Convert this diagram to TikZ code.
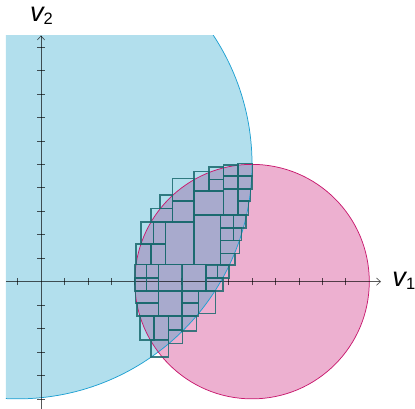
\documentclass[tikz,border=0pt]{standalone}
\usepackage{fontspec}
\setsansfont{Liberation Sans}
\usetikzlibrary{arrows.meta}
\definecolor{bluefill}{RGB}{178,223,237}
\definecolor{pinkfill}{RGB}{237,176,208}
\definecolor{overlapfill}{RGB}{168,170,205}
\definecolor{bluestroke}{RGB}{30,160,210}
\definecolor{pinkstroke}{RGB}{200,25,110}
\definecolor{boxstroke}{RGB}{25,105,110}
\begin{document}
\begin{tikzpicture}[x=1cm,y=1cm,
  axisline/.style={black,opacity=0.65,line width=0.8pt},
  tickline/.style={black,opacity=0.65,line width=0.8pt},
  pavebox/.style={draw=boxstroke,line width=1.8pt,draw opacity=0.85},
  lbl/.style={font=\sffamily\itshape\fontsize{33}{36}\selectfont,inner sep=0pt,anchor=base west}]
\useasboundingbox (-1.748,-5.43) rectangle (15.95,12.01);
% disks
\begin{scope}
  \clip (-1.5,-5.5) rectangle (14.5,10.5);
  \fill[bluefill] (-1,5) circle (10);
\end{scope}
\fill[pinkfill] (9,0) circle (5);
\begin{scope}
  \clip (-1,5) circle (10);
  \fill[overlapfill] (9,0) circle (5);
\end{scope}
\begin{scope}
  \clip (-1.5,-5.5) rectangle (14.5,10.5);
  \draw[bluestroke,line width=0.9pt] (-1,5) circle (10);
\end{scope}
\draw[pinkstroke,line width=0.9pt] (9,0) circle (5);
% axes
\coordinate (xl) at (-1.5,0);
\coordinate (xr) at (14.5,0);
\coordinate (yb) at (0,-5.6);
\coordinate (yt) at (0,10.5);
\draw[axisline,-{Straight Barb[length=5pt,width=9pt]}] (xl) -- (xr);
\draw[axisline,-{Straight Barb[length=5pt,width=9pt]}] (yb) -- (yt);
\foreach \i in {-1,1,2,...,13} \draw[tickline] (\i,-0.15) -- (\i,0.15);
\foreach \j in {-5,-4,...,-1,1,2,...,10} \draw[tickline] (-0.15,\j) -- (0.15,\j);
% boxes
\foreach \a/\b/\c/\d in {
 8.40/4.50/9.02/5.03, 7.79/4.50/8.40/4.98, 7.16/4.36/7.79/4.88,
 6.53/3.86/7.16/4.69, 7.16/3.86/7.79/4.36, 7.79/3.96/8.40/4.50,
 8.40/3.96/8.99/4.50, 8.40/3.43/8.93/3.96, 7.79/2.85/8.40/3.96,
 8.40/2.85/8.86/3.43, 6.53/2.85/7.79/3.86, 5.61/3.43/6.53/4.39,
 5.61/2.54/6.53/3.43, 5.07/3.11/5.61/3.70, 4.69/2.54/5.61/3.11,
 6.53/0.72/7.66/2.85, 7.66/2.29/8.21/2.85, 8.21/2.29/8.75/2.85,
 7.66/1.76/8.21/2.29, 8.21/1.76/8.55/2.29, 7.66/1.21/8.46/1.76,
 7.66/0.70/8.27/1.21, 5.30/0.73/6.53/2.54, 4.79/1.61/5.30/2.54,
 4.26/1.61/4.79/2.54, 4.69/0.73/5.30/1.61, 4.05/0.73/4.69/1.61,
 4.01/0.15/4.51/0.73, 4.01/-0.40/4.51/0.15, 4.51/0.15/5.01/0.73,
 4.51/-0.40/5.01/0.15, 5.01/-0.40/6.01/0.73, 6.03/-0.40/7.04/0.73,
 7.04/0.15/7.52/0.71, 7.52/0.15/8.02/0.71, 7.04/-0.40/7.76/0.15,
 4.04/-0.92/5.01/-0.40, 4.10/-1.46/5.01/-0.92, 5.01/-1.46/6.01/-0.40,
 6.01/-0.92/6.71/-0.40, 6.01/-1.46/6.71/-0.92, 6.71/-1.36/7.44/-0.40,
 4.22/-2.50/4.82/-1.46, 4.82/-2.47/5.44/-1.46, 5.44/-2.06/6.03/-1.46,
 6.01/-2.11/6.63/-1.46, 5.44/-2.64/6.04/-2.06, 4.69/-3.22/5.44/-2.50}
  \draw[pavebox] (\a,\b) rectangle (\c,\d);
% labels
\node[lbl] (v1) at (14.98,-0.21) {v\raisebox{-4pt}{\upshape\fontsize{20}{20}\selectfont 1}};
\node[lbl] (v2) at (-0.47,11.09) {v\raisebox{-4pt}{\upshape\fontsize{20}{20}\selectfont 2}};
\end{tikzpicture}
\end{document}
